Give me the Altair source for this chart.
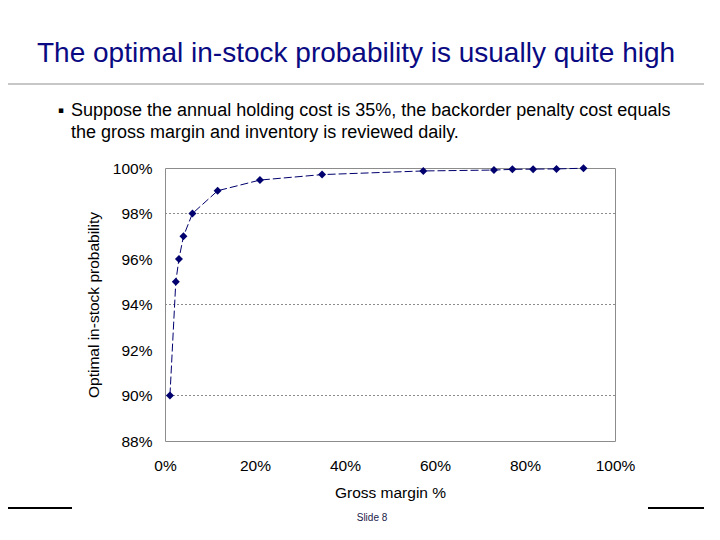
import altair as alt
import pandas as pd

# Data
gross_margin = [0.011, 0.024, 0.031, 0.041, 0.061, 0.117, 0.211, 0.349, 0.574, 0.731, 0.772, 0.818, 0.870, 0.930]
in_stock_prob = [0.900, 0.950, 0.960, 0.970, 0.980, 0.990, 0.9947, 0.9971, 0.9987, 0.9991, 0.9994, 0.9995, 0.9996, 0.9999]
y_ticks = [0.88, 0.90, 0.92, 0.94, 0.96, 0.98, 1.00]
x_ticks = [0.0, 0.2, 0.4, 0.6, 0.8, 1.0]
grid_lines = [0.90, 0.94, 0.98]

title_text = "The optimal in-stock probability is usually quite high"
bullet_lines = [
    "Suppose the annual holding cost is 35%, the backorder penalty cost equals",
    "the gross margin and inventory is reviewed daily.",
]
footer_text = "Slide 8"

df = pd.DataFrame({"margin": gross_margin, "prob": in_stock_prob})
grid_df = pd.DataFrame({"g": grid_lines})

PW, PH = 450, 273
FONT = "Liberation Sans"
NAVY = "#00006e"
TITLE_COLOR = "#0a0a82"

xs = alt.Scale(domain=[0, 1], nice=False)
ys = alt.Scale(domain=[0.88, 1.0], nice=False)

grid = alt.Chart(grid_df).mark_rule(color="#8c8c8c", strokeWidth=1, strokeDash=[2, 2]).encode(
    y=alt.Y("g:Q", scale=ys)
)

line = alt.Chart(df).mark_line(color=NAVY, strokeWidth=1, strokeDash=[8, 3]).encode(
    x=alt.X("margin:Q", scale=xs,
            axis=alt.Axis(values=x_ticks, format=".0%", title="Gross margin %", grid=False,
                          ticks=False, domain=False, labelPadding=17, labelFontSize=15.5,
                          labelFlush=False, labelOverlap=False,
                          labelFont=FONT, labelColor="#000000", titleFont=FONT, titleFontSize=15.5,
                          titleFontWeight="normal", titleColor="#000000", titleY=51,
                          titleBaseline="middle")),
    y=alt.Y("prob:Q", scale=ys,
            axis=alt.Axis(values=y_ticks, format=".0%", title="Optimal in-stock probability",
                          grid=False, ticks=False, domain=False, labelPadding=13,
                          labelFlush=False, labelOverlap=False,
                          labelFontSize=15.5, labelFont=FONT, labelColor="#000000",
                          titleFont=FONT, titleFontSize=15.5, titleFontWeight="normal",
                          titleColor="#000000", titleX=-72, titleBaseline="middle")),
)

points = alt.Chart(df).mark_point(shape="diamond", filled=True, color=NAVY, size=64, opacity=1).encode(
    x=alt.X("margin:Q", scale=xs),
    y=alt.Y("prob:Q", scale=ys),
)

# Slide decorations (pixel offsets relative to the plot origin at page (165,168))
OX, OY = 165, 168
def px(v):
    return v - OX
def py(v):
    return v - OY

title = alt.Chart(pd.DataFrame({"t": [title_text]})).mark_text(
    align="left", baseline="alphabetic", font=FONT, fontSize=28, color=TITLE_COLOR
).encode(x=alt.value(px(37)), y=alt.value(py(62)), text="t:N")

sep = alt.Chart(pd.DataFrame({"a": [0]})).mark_rule(color="#b4b4b4", strokeWidth=1.5).encode(
    x=alt.value(px(0)), x2=alt.value(px(720)), y=alt.value(py(84))
)

bullet = alt.Chart(pd.DataFrame({"t": ["\u25aa"]})).mark_text(
    align="center", baseline="middle", font="DejaVu Sans", fontSize=9, color="#000000"
).encode(x=alt.value(px(61)), y=alt.value(py(110)), text="t:N")

bl1 = alt.Chart(pd.DataFrame({"t": [bullet_lines[0]]})).mark_text(
    align="left", baseline="alphabetic", font=FONT, fontSize=18, color="#000000"
).encode(x=alt.value(px(71)), y=alt.value(py(116)), text="t:N")

bl2 = alt.Chart(pd.DataFrame({"t": [bullet_lines[1]]})).mark_text(
    align="left", baseline="alphabetic", font=FONT, fontSize=18, color="#000000"
).encode(x=alt.value(px(71)), y=alt.value(py(138)), text="t:N")

foot_l = alt.Chart(pd.DataFrame({"a": [0]})).mark_rule(color="#000000", strokeWidth=2).encode(
    x=alt.value(px(0)), x2=alt.value(px(72)), y=alt.value(py(508))
)
foot_r = alt.Chart(pd.DataFrame({"a": [0]})).mark_rule(color="#000000", strokeWidth=2).encode(
    x=alt.value(px(648)), x2=alt.value(px(720)), y=alt.value(py(508))
)
footer = alt.Chart(pd.DataFrame({"t": [footer_text]})).mark_text(
    align="center", baseline="middle", font=FONT, fontSize=10, color="#1a1a4a"
).encode(x=alt.value(px(372)), y=alt.value(py(518)), text="t:N")

chart = alt.layer(grid, line, points, title, sep, bullet, bl1, bl2, foot_l, foot_r, footer).properties(
    width=PW, height=PH,
    autosize=alt.AutoSizeParams(type="none"),
    padding={"left": OX - 8, "top": OY - 8, "right": 720 - 16 - OX - PW, "bottom": 540 - 16 - OY - PH},
    background="#ffffff",
).configure_view(stroke="#8c8c8c", strokeWidth=1)

chart.save("out.html", embed_options={"renderer": "svg", "actions": False})
